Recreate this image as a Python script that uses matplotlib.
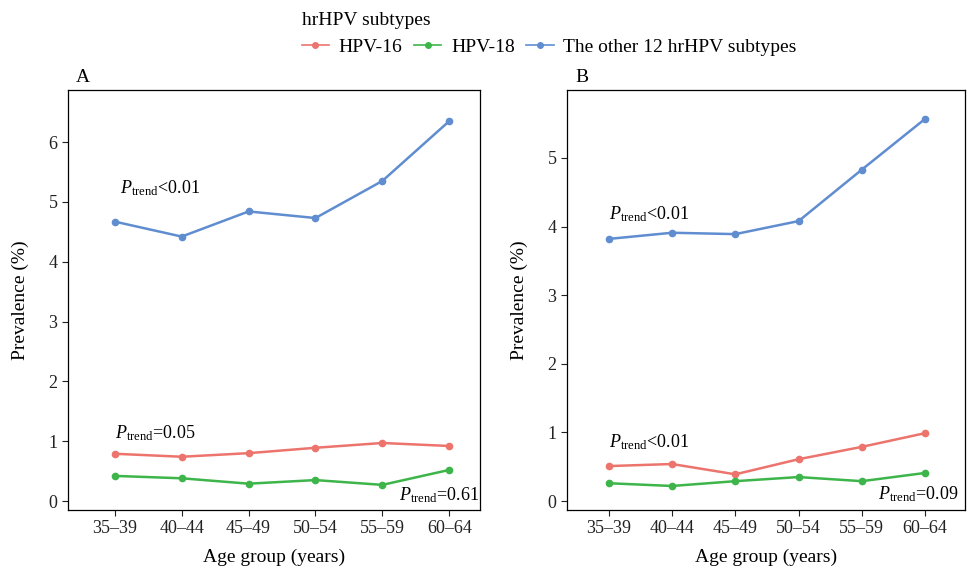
import numpy as np
import matplotlib
matplotlib.use("Agg")
import matplotlib.pyplot as plt

plt.rcParams["font.family"] = "Liberation Serif"
plt.rcParams["mathtext.fontset"] = "custom"
plt.rcParams["mathtext.rm"] = "Liberation Serif"
plt.rcParams["mathtext.it"] = "Liberation Serif:italic"

ages = ["35\u201339", "40\u201344", "45\u201349", "50\u201354", "55\u201359", "60\u201364"]
series = ["HPV-16", "HPV-18", "The other 12 hrHPV subtypes"]
colors = ["#EC746D", "#3DB54A", "#5F8DD0"]

a_hpv16 = [0.79, 0.74, 0.80, 0.89, 0.97, 0.92]
a_hpv18 = [0.42, 0.38, 0.29, 0.35, 0.27, 0.52]
a_other = [4.67, 4.42, 4.84, 4.73, 5.35, 6.35]

b_hpv16 = [0.51, 0.54, 0.39, 0.61, 0.79, 0.99]
b_hpv18 = [0.26, 0.22, 0.29, 0.35, 0.29, 0.41]
b_other = [3.82, 3.91, 3.89, 4.08, 4.83, 5.57]

fig = plt.figure(figsize=(9.73, 5.68), dpi=100)
axA = fig.add_axes([68/973, 1-510/568, 412/973, 420/568])
axB = fig.add_axes([567/973, 1-510/568, 398/973, 420/568])

def ptxt(s):
    return r"$\it{P}_{\rm trend}$" + s

def panel(ax, data, ylim, xlim, yticks, notes, label):
    x = np.arange(len(ages))
    for vals, c, name in zip(data, colors, series):
        ax.plot(x, vals, color=c, lw=1.8, marker="o", ms=4.5, label=name)
    ax.set_xticks(x, ages)
    ax.set_yticks(yticks)
    ax.set_xlim(*xlim)
    ax.set_ylim(*ylim)
    ax.tick_params(labelsize=13, colors="#222222", length=4)
    for s in ax.spines.values():
        s.set_linewidth(0.9)
    ax.set_xlabel("Age group (years)", fontsize=14, labelpad=8)
    ax.set_ylabel("Prevalence (%)", fontsize=14, labelpad=14)
    for (tx, ty, t) in notes:
        ax.text(tx, ty, ptxt(t), fontsize=13)
    ax.text(0.02, 1.01, label, transform=ax.transAxes, fontsize=14, va="bottom", ha="left")

panel(axA, [a_hpv16, a_hpv18, a_other], (-0.15, 6.87), (-0.7, 5.46), range(7),
      [(0.07, 5.15, "<0.01"), (0.0, 1.05, "=0.05"), (4.25, 0.02, "=0.61")], "A")
panel(axB, [b_hpv16, b_hpv18, b_other], (-0.13, 5.99), (-0.66, 5.63), range(6),
      [(0.0, 4.1, "<0.01"), (0.0, 0.78, "<0.01"), (4.25, 0.02, "=0.09")], "B")

h, l = axA.get_legend_handles_labels()
leg = fig.legend(h, l, title="hrHPV subtypes", ncol=3, loc="upper left",
                 bbox_to_anchor=(290/973, 1.0), frameon=False, fontsize=14,
                 title_fontsize=14, handlelength=1.4, columnspacing=0.6,
                 handletextpad=0.5, borderaxespad=0.2)
leg._legend_box.align = "left"
for lh in leg.legend_handles:
    lh.set_markersize(4)
    lh.set_linewidth(1.2)

fig.savefig("out.png", dpi=100)
